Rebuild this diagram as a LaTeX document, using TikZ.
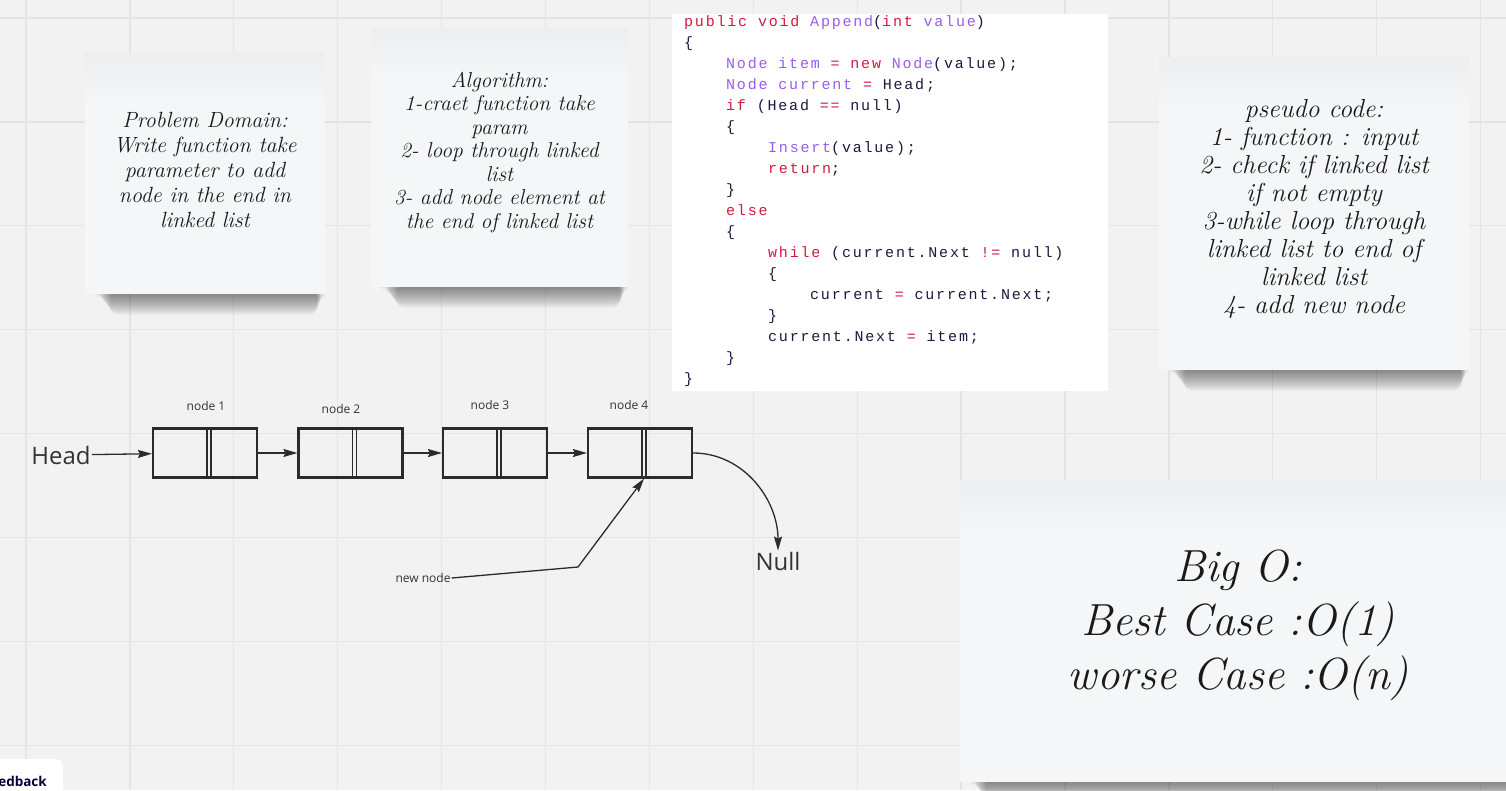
\documentclass[tikz,border=0pt]{standalone}
\usepackage{fontspec}
\newfontfamily\uifont{Open Sans}
\newfontfamily\codefont{Liberation Mono}[LetterSpace=12]
\usepackage{tikz}
\usetikzlibrary{arrows.meta}
\usetikzlibrary{positioning}

\definecolor{boardbg}{HTML}{F2F2F2}
\definecolor{gridcol}{HTML}{E4E4E4}
\definecolor{notefill}{HTML}{F5F6F8}
\definecolor{inkcol}{HTML}{1A1A1A}
\definecolor{boxline}{HTML}{2B2B2B}
\definecolor{labelcol}{HTML}{333333}
\definecolor{codered}{HTML}{D11A3F}
\definecolor{codeviolet}{HTML}{9A5CEB}
\definecolor{codeplain}{HTML}{1A1A40}
\definecolor{fbnavy}{HTML}{050038}

\newcommand{\handfont}[2]{\fontsize{#1}{#2}\selectfont\itshape}
\newcommand{\ckey}[1]{\textcolor{codered}{#1}}
\newcommand{\cname}[1]{\textcolor{codeviolet}{#1}}
% soft shadow under a sticky note
\newcommand{\noteshadow}[1]{%
  \foreach \k in {1,...,16}
    \fill[black, opacity=.03, rounded corners=8pt]
      ([xshift={10pt+1pt*\k}, yshift=3pt]#1.south west) rectangle
      ([xshift={-0.5pt*\k}, yshift={-1.3pt*\k}]#1.south east);}
% greyish band at the top of a sticky note
\newcommand{\notetop}[1]{%
  \foreach \k in {1,...,8}
    \fill[black, opacity=.0045] (#1.north west) rectangle ([yshift={-6pt*\k}]#1.north east);}

\pgfdeclarelayer{gridlayer}
\pgfdeclarelayer{shadowlayer}
\pgfsetlayers{gridlayer,shadowlayer,main}

\tikzset{
  gridline/.style={gridcol, line width=1.3pt},
  note/.style={fill=notefill, inner sep=0pt},
  notetext/.style={inner sep=0pt, align=center, text=inkcol},
  codebox/.style={fill=white, inner sep=0pt},
  codeline/.style={anchor=west, inner sep=0pt, text=codeplain,
    text height=11pt, text depth=3pt, font=\codefont\fontsize{15}{15}\selectfont},
  listnode/.style={draw=boxline, line width=2.2pt, inner sep=0pt,
    minimum width=104pt, minimum height=49pt},
  divider/.style={boxline, line width=1.6pt},
  link/.style={boxline, line width=1.3pt, -{Stealth[length=14pt, width=8pt, inset=2pt]}},
  bigtext/.style={inner sep=1pt, text=labelcol, font=\uifont\fontsize{24}{24}\selectfont},
  smalltext/.style={inner sep=1pt, text=labelcol, font=\uifont\fontsize{12}{12}\selectfont},
}

\begin{document}
\begin{tikzpicture}[x=1pt, y=-1pt]
\useasboundingbox (0,0) rectangle (1506,790);
\clip (0,0) rectangle (1506,790);

\begin{pgfonlayer}{gridlayer}
\fill[boardbg] (0,0) rectangle (1506,790);
\foreach \k in {0,...,14} \draw[gridline] ({26+103.9*\k},0) -- ++(0,790);
\foreach \k in {0,...,7} \draw[gridline] (0,{18+103.9*\k}) -- ++(1506,0);
\end{pgfonlayer}

% sticky notes
\node[note, minimum width=240pt, minimum height=241pt] (domain) at (205,173.5) {};
\node[note, minimum width=257pt, minimum height=259pt] (algo) at (499.5,157.5) {};
\node[note, minimum width=310pt, minimum height=313pt] (pseudo) at (1314,213.5) {};
\node[note, minimum width=556pt, minimum height=302pt] (bigo) at (1238,631) {};
\notetop{domain}
\notetop{algo}
\notetop{pseudo}
\notetop{bigo}

\begin{pgfonlayer}{shadowlayer}
\noteshadow{domain}
\noteshadow{algo}
\noteshadow{pseudo}
\noteshadow{bigo}
\end{pgfonlayer}

\node[notetext, font=\handfont{22}{25}] (domaintext) at ([yshift=4pt]domain.center)
  {Problem Domain:\\Write function take\\parameter to add\\node in the end in\\linked list};
\node[notetext, font=\handfont{21.5}{23.5}] (algotext) at ([yshift=5pt]algo.center)
  {Algorithm:\\1-craet function take\\param\\2- loop through linked\\list\\3- add node element at\\the end of linked list};
\node[notetext, font=\handfont{26}{28}] (pseudotext) at ([yshift=5pt]pseudo.center)
  {pseudo code:\\1- function : input\\2- check if linked list\\if not empty\\3-while loop through\\linked list to end of\\linked list\\4- add new node};
\node[notetext, font=\handfont{45}{54}] (bigotext) at ([yshift=6pt]bigo.center)
  {Big O:\\Best Case :O(1)\\worse Case :O(n)};

% code
\node[codebox, minimum width=436pt, minimum height=377pt] (code) at (890,202.5) {};
\foreach \lev/\txt [count=\i from 0] in {
  0/{\ckey{public} \ckey{void} \cname{Append}(\ckey{int} \cname{value})},
  0/\{,
  1/{\cname{Node} \cname{item} \ckey{=} \ckey{new} \cname{Node}(value);},
  1/{\cname{Node} \cname{current} \ckey{=} Head;},
  1/{\ckey{if} (Head \ckey{==} null)},
  1/\{,
  2/{\cname{Insert}(value);},
  2/{\ckey{return};},
  1/\},
  1/{\ckey{else}},
  1/\{,
  2/{\ckey{while} (current.Next \ckey{!=} null)},
  2/\{,
  3/{current \ckey{=} current.Next;},
  2/\},
  2/{current.Next \ckey{=} item;},
  1/\},
  0/\}}
  \node[codeline] (line\i) at ({684+42*\lev},{22+21*\i}) {\txt};

% linked list
\foreach \i/\cx/\lx/\ly in {1/205/206/406, 2/350.5/341/409, 3/495/490/405, 4/640/629/405} {
  \node[listnode] (n\i) at (\cx,453) {};
  \draw[divider] ([xshift=2pt]n\i.north) -- ([xshift=2pt]n\i.south);
  \draw[divider] ([xshift=6pt]n\i.north) -- ([xshift=6pt]n\i.south);
  \node[smalltext] (lab\i) at (\lx,\ly) {node \i};
}
\node[bigtext] (head) at (61,455) {Head};
\node[bigtext] (null) at (778,561) {Null};
\node[smalltext] (newnode) at (423,578) {new node};
\coordinate (kink) at (578,567);

\draw[link] (head) -- (n1);
\foreach \a/\b in {1/2, 2/3, 3/4} \draw[link] (n\a) -- (n\b);
\draw[link] (n4.east) to[out=0, in=90] (null.north);
\draw[link] (newnode.east) -- (kink) -- ([xshift=4pt]n4.south);

% feedback tab, cut by the left edge
\node[fill=white, rounded corners=7pt, anchor=north east, minimum height=44pt, inner xsep=16pt,
  text=fbnavy, font=\uifont\bfseries\fontsize{13.5}{13.5}\selectfont] (feedback) at (63,759) {edback};
\end{tikzpicture}
\end{document}
